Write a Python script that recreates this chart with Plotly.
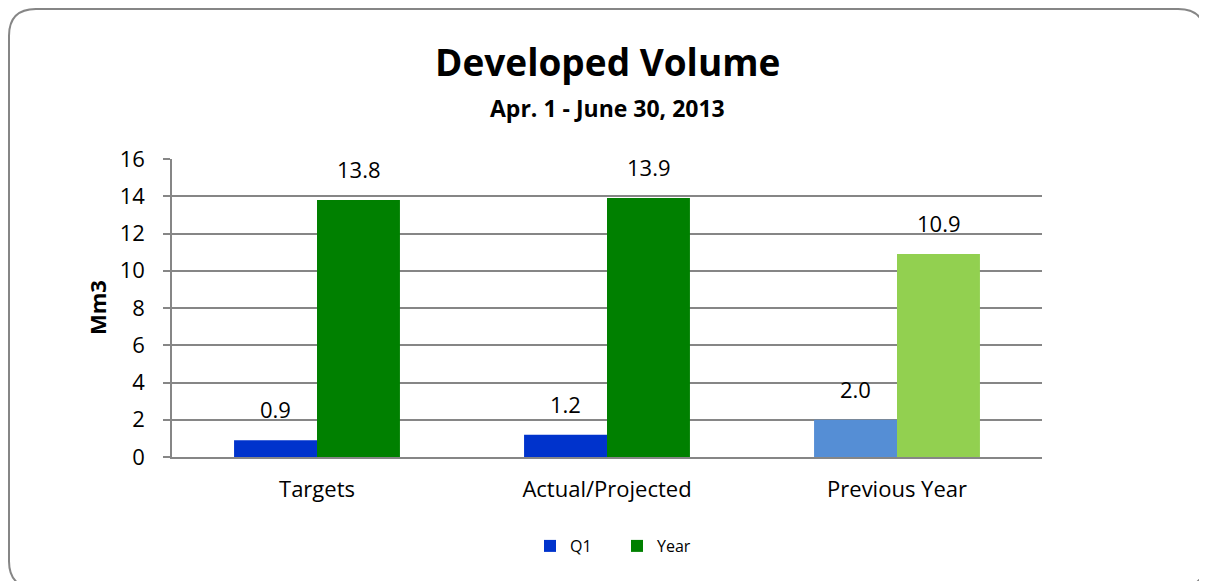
import plotly.graph_objects as go

categories = ["Targets", "Actual/Projected", "Previous Year"]
q1_values = [0.9, 1.2, 2.0]
year_values = [13.8, 13.9, 10.9]
q1_colors = ["#0033CC", "#0033CC", "#558ED5"]
year_colors = ["#008000", "#008000", "#92D050"]

FONT = "Open Sans"
W, H = 1207, 581
L, R, T, B = 164, 173, 151, 132
pw, ph = W - L - R, H - T - B


def px_x(v):
    return (v - L) / pw


def px_y(v):
    return (H - B - v) / ph


fig = go.Figure()
fig.add_trace(go.Bar(
    x=categories, y=q1_values, name="Q1",
    marker=dict(color=q1_colors, line=dict(width=0)),
))
fig.add_trace(go.Bar(
    x=categories, y=year_values, name="Year",
    marker=dict(color=year_colors, line=dict(width=0)),
))

# value labels above the bars
annotations = []
for shift, vals in ((-41.5, q1_values), (41.5, year_values)):
    for c, v in zip(categories, vals):
        annotations.append(dict(
            x=c, y=v, xref="x", yref="y", text=f"{v:.1f}",
            showarrow=False, xshift=shift, yshift=31, yanchor="middle",
            font=dict(family=FONT, size=22, color="#000000"),
        ))

annotations += [
    dict(x=0.5, y=px_y(54), xref="paper", yref="paper", text="<b>Developed Volume</b>",
         showarrow=False, yanchor="middle", font=dict(family=FONT, size=37, color="#000000")),
    dict(x=0.5, y=px_y(100), xref="paper", yref="paper", text="<b>Apr. 1 - June 30, 2013</b>",
         showarrow=False, yanchor="middle", font=dict(family=FONT, size=23, color="#000000")),
    dict(x=px_x(89), y=0.5, xref="paper", yref="paper", text="<b>Mm3</b>", textangle=-90,
         showarrow=False, xanchor="center", yanchor="middle",
         font=dict(family=FONT, size=22, color="#000000")),
]

# rounded chart border
x0, x1, y0, y1, r = 1, 1197, 1, 580, 27
pts = [
    ("M", x0 + r, y0), ("L", x1 - r, y0), ("Q", x1, y0, x1, y0 + r),
    ("L", x1, y1 - r), ("Q", x1, y1, x1 - r, y1), ("L", x0 + r, y1),
    ("Q", x0, y1, x0, y1 - r), ("L", x0, y0 + r), ("Q", x0, y0, x0 + r, y0),
]
path = ""
for p in pts:
    cmd, coords = p[0], p[1:]
    xy = []
    for i in range(0, len(coords), 2):
        xy.append(f"{px_x(coords[i]):.5f},{px_y(coords[i + 1]):.5f}")
    path += cmd + " " + " ".join(xy) + " "
path += "Z"

fig.update_layout(
    width=W, height=H,
    margin=dict(l=L, r=R, t=T, b=B),
    paper_bgcolor="white", plot_bgcolor="white",
    barmode="group", bargap=0.428, bargroupgap=0,
    font=dict(family=FONT, size=22, color="#000000"),
    showlegend=True,
    legend=dict(orientation="h", x=px_x(609), xanchor="center", y=px_y(538), yanchor="middle",
                font=dict(family=FONT, size=16), entrywidth=42, tracegroupgap=0),
    xaxis=dict(showgrid=False, showline=True, linecolor="#868686", linewidth=1.5,
               ticks="", tickfont=dict(size=22), ticklabelstandoff=12),
    yaxis=dict(range=[0, 16], dtick=2, showgrid=True, gridcolor="#868686", gridwidth=1.5,
               showline=True, linecolor="#868686", linewidth=1.5, ticks="outside",
               ticklen=7, tickcolor="#868686", tickwidth=1.5, zeroline=False,
               tickfont=dict(size=22), ticklabelstandoff=14),
    annotations=annotations,
    shapes=[dict(type="path", path=path, xref="paper", yref="paper",
                 line=dict(color="#868686", width=2), layer="below")],
)

fig.write_html("out.html")
